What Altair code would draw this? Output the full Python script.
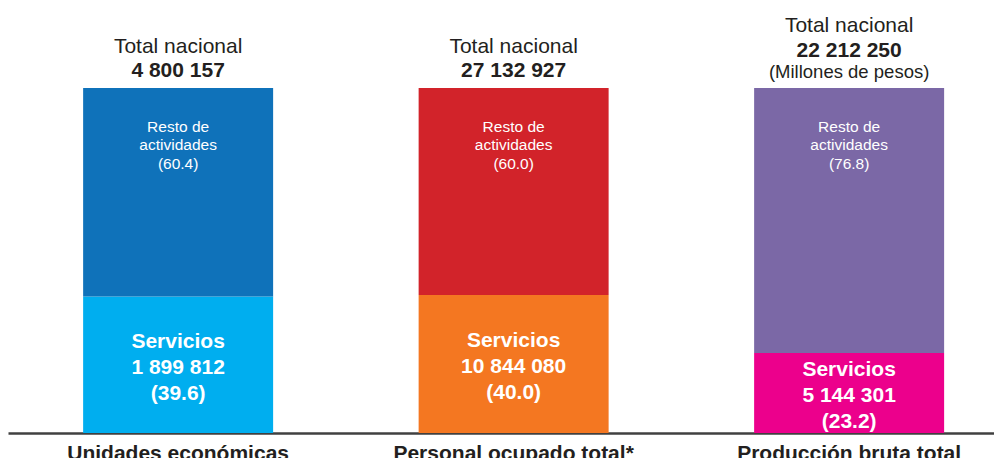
import altair as alt
import pandas as pd

# ---- data ----
categories = ["Unidades económicas", "Personal ocupado  total*", "Producción bruta total"]
header_title = ["Total nacional", "Total nacional", "Total nacional"]
totals = ["4 800 157", "27 132 927", "22 212 250"]
units = ["", "", "(Millones de pesos)"]
servicios_values = ["1 899 812", "10 844 080", "5 144 301"]
servicios_pct = [39.6, 40.0, 23.2]
resto_pct = [60.4, 60.0, 76.8]
servicios_name = "Servicios"
resto_name = ["Resto de", "actividades"]
colors_servicios = ["#00AEEF", "#F47721", "#EC008C"]
colors_resto = ["#0F72BA", "#D2232A", "#7B68A6"]

FONT = "Liberation Sans"
DARK = "#231F20"

# ---- tables built from the lists ----
bar_rows = []
for i, c in enumerate(categories):
    bar_rows.append(dict(cat=c, seg=servicios_name, pct=servicios_pct[i], ord=0, key=c + "|S"))
    bar_rows.append(dict(cat=c, seg="Resto", pct=resto_pct[i], ord=1, key=c + "|R"))
df_bars = pd.DataFrame(bar_rows)

df_info = pd.DataFrame(dict(
    cat=categories,
    title=header_title,
    total=totals,
    unit=units,
    serv_pct=servicios_pct,
    resto_pct=resto_pct,
    serv_label=[f"{servicios_name}\n{v}\n({p:.1f})" for v, p in zip(servicios_values, servicios_pct)],
    resto_label=[f"{resto_name[0]}\n{resto_name[1]}\n({p:.1f})" for p in resto_pct],
))

color_domain = [c + "|S" for c in categories] + [c + "|R" for c in categories]
color_range = colors_servicios + colors_resto

xscale = alt.Scale(domain=categories, paddingInner=0.4337, paddingOuter=0.1863, align=0.601)
yscale = alt.Scale(domain=[0, 100], nice=False, zero=True)

x_axis = alt.Axis(
    title=None, labelAngle=0, ticks=False, tickSize=0, labelPadding=9,
    labelFont=FONT, labelFontSize=21, labelFontWeight="bold", labelColor=DARK,
    labelLimit=0, domainColor="#404040", domainWidth=2.5, grid=False,
)
xenc = alt.X("cat:N", scale=xscale, sort=categories, axis=x_axis)

bars = alt.Chart(df_bars).mark_bar(strokeWidth=0).encode(
    x=xenc,
    y=alt.Y("pct:Q", stack="zero", scale=yscale, axis=None),
    color=alt.Color("key:N", scale=alt.Scale(domain=color_domain, range=color_range), legend=None),
    order=alt.Order("ord:Q"),
)

base = alt.Chart(df_info).transform_calculate(
    top="datum.serv_pct + datum.resto_pct",
    mid="datum.serv_pct / 2",
)

def header(filter_expr, field, dy, size, weight):
    return base.transform_filter(filter_expr).mark_text(
        font=FONT, fontSize=size, fontWeight=weight, color=DARK, baseline="alphabetic", dy=dy,
    ).encode(x=xenc, y=alt.Y("top:Q", scale=yscale, axis=None), text=f"{field}:N")

title_a = header("datum.unit == ''", "title", -35, 21, "normal")
num_a = header("datum.unit == ''", "total", -11, 21, "bold")
title_b = header("datum.unit != ''", "title", -56, 21, "normal")
num_b = header("datum.unit != ''", "total", -31, 21, "bold")
unit_b = header("datum.unit != ''", "unit", -10, 18.5, "normal")

resto_txt = base.mark_text(
    font=FONT, fontSize=15.5, color="white", baseline="top", dy=32, lineBreak="\n", lineHeight=18.3,
).encode(x=xenc, y=alt.Y("top:Q", scale=yscale, axis=None), text="resto_label:N")

serv_txt = base.mark_text(
    font=FONT, fontSize=21, fontWeight="bold", color="white", baseline="top", dy=-34,
    lineBreak="\n", lineHeight=26,
).encode(x=xenc, y=alt.Y("mid:Q", scale=yscale, axis=None), text="serv_label:N")

chart = alt.layer(
    bars, title_a, num_a, title_b, num_b, unit_b, resto_txt, serv_txt
).properties(
    width=986, height=345,
    autosize=alt.AutoSizeParams(type="none"),
    padding={"left": 0, "top": 80, "right": 0, "bottom": 25},
).configure_view(stroke=None)

chart.save("out.html", embed_options={"renderer": "svg", "actions": False})
